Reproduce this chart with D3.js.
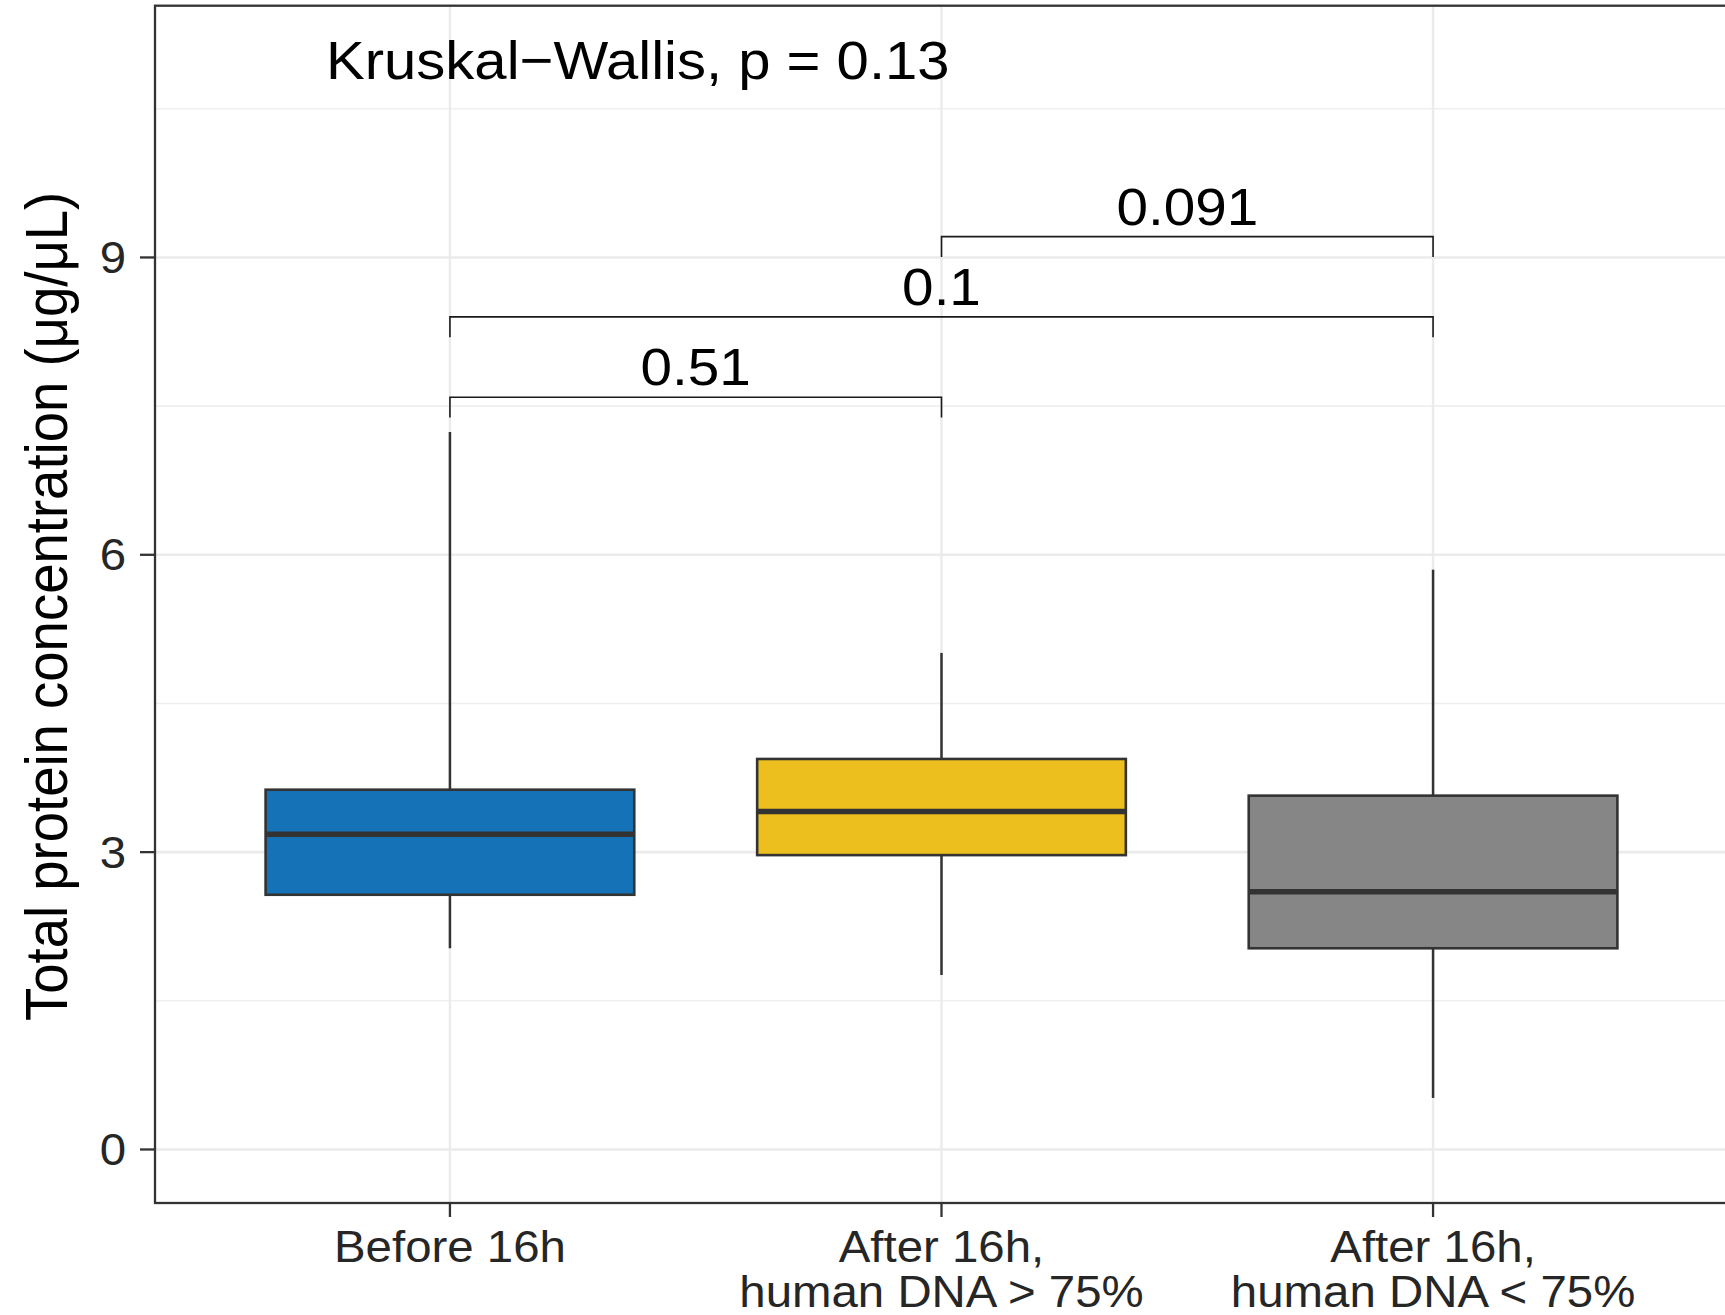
<!DOCTYPE html>
<html>
<head>
<meta charset="utf-8">
<script src="https://cdn.jsdelivr.net/npm/d3@7"></script>
<style>
  html, body { margin: 0; padding: 0; background: #fff; }
  svg { display: block; }
  text { font-family: "Liberation Sans", Arial, Helvetica, sans-serif; }
</style>
</head>
<body>
<svg id="chart" width="1725" height="1315"></svg>
<script>
// ---- data ----
const categories = ["Before 16h", "After 16h,\nhuman DNA > 75%", "After 16h,\nhuman DNA < 75%"];
const whiskerLow  = [2.03, 1.76, 0.52];
const q1          = [2.57, 2.97, 2.03];
const medians     = [3.18, 3.41, 2.60];
const q3          = [3.63, 3.94, 3.57];
const whiskerHigh = [7.24, 5.01, 5.85];
const boxColors   = ["#1572B7", "#ECBF1F", "#868686"];
const yTicks      = [0, 3, 6, 9];
const comparisons = [
  { from: 0, to: 1, level: 7.59, label: "0.51" },
  { from: 0, to: 2, level: 8.40, label: "0.1" },
  { from: 1, to: 2, level: 9.21, label: "0.091" }
];
const globalTest = "Kruskal\u2212Wallis, p = 0.13";
const yTitle = "Total protein concentration (\u03bcg/\u03bcL)";

// ---- layout ----
const panel = { left: 155, right: 1728, top: 5.7, bottom: 1203 };
const SX = 1.09; // horizontal glyph stretch of the reference rendering
const svg = d3.select("#chart");

const x = d3.scalePoint().domain(categories).range([panel.left, panel.right]).padding(0.6);
const y = d3.scaleLinear().domain([-0.54, 11.54]).range([panel.bottom, panel.top]);
const step = x.step();
const boxW = 0.75 * step;

function stretchedText(g, tx, ty, str, size, anchor, fill, rotate, sx) {
  return g.append("g")
    .attr("transform", `translate(${tx},${ty}) scale(${sx || SX},1)` + (rotate ? ` rotate(${rotate})` : ""))
    .append("text")
    .attr("x", 0).attr("y", 0)
    .attr("text-anchor", anchor)
    .attr("font-size", size)
    .attr("fill", fill)
    .text(str);
}

// panel clip
svg.append("defs").append("clipPath").attr("id", "clip")
  .append("rect").attr("x", panel.left).attr("y", panel.top)
  .attr("width", panel.right - panel.left).attr("height", panel.bottom - panel.top);

const grid = svg.append("g").attr("clip-path", "url(#clip)");
const minor = yTicks.map(t => t + 1.5);
grid.selectAll(".minor").data(minor).join("line")
  .attr("x1", panel.left).attr("x2", panel.right)
  .attr("y1", d => y(d)).attr("y2", d => y(d))
  .attr("stroke", "#EFEFEF").attr("stroke-width", 1.6);
grid.selectAll(".major").data(yTicks).join("line")
  .attr("x1", panel.left).attr("x2", panel.right)
  .attr("y1", d => y(d)).attr("y2", d => y(d))
  .attr("stroke", "#EBEBEB").attr("stroke-width", 2.6);
grid.selectAll(".vg").data(categories).join("line")
  .attr("x1", d => x(d)).attr("x2", d => x(d))
  .attr("y1", panel.top).attr("y2", panel.bottom)
  .attr("stroke", "#EBEBEB").attr("stroke-width", 2.4);

// boxes
const boxes = svg.append("g");
categories.forEach((c, i) => {
  const cx = x(c);
  boxes.append("line")
    .attr("x1", cx).attr("x2", cx)
    .attr("y1", y(whiskerHigh[i])).attr("y2", y(q3[i]))
    .attr("stroke", "#333333").attr("stroke-width", 2.5);
  boxes.append("line")
    .attr("x1", cx).attr("x2", cx)
    .attr("y1", y(q1[i])).attr("y2", y(whiskerLow[i]))
    .attr("stroke", "#333333").attr("stroke-width", 2.5);
  boxes.append("rect")
    .attr("x", cx - boxW / 2).attr("width", boxW)
    .attr("y", y(q3[i])).attr("height", y(q1[i]) - y(q3[i]))
    .attr("fill", boxColors[i])
    .attr("stroke", "#333333").attr("stroke-width", 2.6);
  boxes.append("line")
    .attr("x1", cx - boxW / 2).attr("x2", cx + boxW / 2)
    .attr("y1", y(medians[i])).attr("y2", y(medians[i]))
    .attr("stroke", "#333333").attr("stroke-width", 5.4);
});

// comparison brackets
const br = svg.append("g");
const tipDrop = 0.205;
comparisons.forEach(cmp => {
  const x1 = x(categories[cmp.from]), x2 = x(categories[cmp.to]);
  const yl = y(cmp.level), yt = y(cmp.level - tipDrop);
  br.append("path")
    .attr("d", `M${x1},${yt} L${x1},${yl} L${x2},${yl} L${x2},${yt}`)
    .attr("fill", "none").attr("stroke", "#1a1a1a").attr("stroke-width", 1.6);
  stretchedText(br, (x1 + x2) / 2, yl - 12, cmp.label, 52, "middle", "#000");
});

// global test label
const kwX = panel.left + (0.75 - 0.4) * step - 1;
stretchedText(svg, kwX, y(10.8), globalTest, 54.5, "start", "#000", null, 1.065);

// panel border (right edge lies just outside the canvas)
svg.append("rect")
  .attr("x", panel.left).attr("y", panel.top)
  .attr("width", panel.right - panel.left).attr("height", panel.bottom - panel.top)
  .attr("fill", "none").attr("stroke", "#333333").attr("stroke-width", 2.3);

// y axis ticks & labels
const yAxis = svg.append("g");
yTicks.forEach(t => {
  yAxis.append("line")
    .attr("x1", panel.left - 15).attr("x2", panel.left)
    .attr("y1", y(t)).attr("y2", y(t))
    .attr("stroke", "#333333").attr("stroke-width", 2.3);
  stretchedText(yAxis, panel.left - 29, y(t) + 15.5, String(t), 43.5, "end", "#262626");
});

// x axis ticks & labels
const xAxis = svg.append("g");
categories.forEach(c => {
  const cx = x(c);
  xAxis.append("line")
    .attr("x1", cx).attr("x2", cx)
    .attr("y1", panel.bottom).attr("y2", panel.bottom + 14)
    .attr("stroke", "#333333").attr("stroke-width", 2.3);
  c.split("\n").forEach((line, k) => {
    stretchedText(xAxis, cx, 1261.5 + k * 45.3, line, 43.5, "middle", "#262626");
  });
});

// y title
stretchedText(svg, 67, (panel.top + panel.bottom) / 2 + 2, yTitle, 54.5, "middle", "#000", -90);
</script>
</body>
</html>
